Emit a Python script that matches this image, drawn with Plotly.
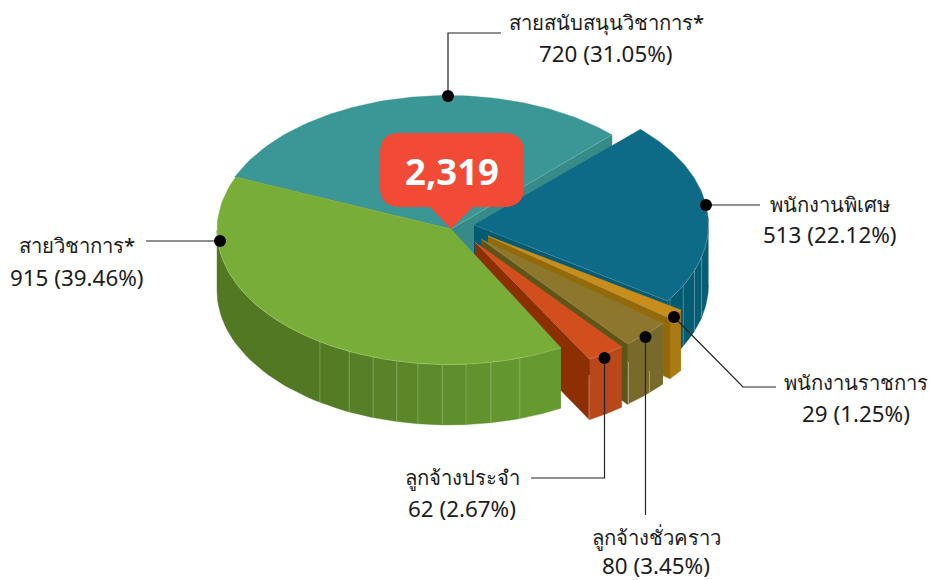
import numpy as np
import plotly.graph_objects as go

# ---- data ----
categories = ["สายสนับสนุนวิชาการ*", "พนักงานพิเศษ", "พนักงานราชการ", "ลูกจ้างชั่วคราว", "ลูกจ้างประจำ", "สายวิชาการ*"]
values = [720, 513, 29, 80, 62, 915]
total_label = "2,319"

# ---- style ----
top_colors = ["#3a9795", "#0e6b87", "#c98d1b", "#8d772d", "#d24f1d", "#78ae37"]
side_colors = ["#368a87", "#015b72", "#936a08", "#5f5518", "#8c3003", "#4f7522"]
wall_left = ["#368a87", "#015a70", "#ac7a12", "#79692a", "#b84819", "#527824"]
wall_right = ["#368a87", "#085f75", "#ac7a12", "#79692a", "#b84819", "#669a30"]
ellipse_centers = [(448, 230), (476.5, 224.5), (490, 233.5), (483, 238.5), (477.5, 241.5), (449, 230)]
apexes = [(451, 229), (474, 225), (488, 236), (481, 239), (475, 242), (451, 229)]
wall_seams = [[], [-33.5, -27, -20, -14], [], [], [], [-123.8, -115.5, -109.1, -103, -97.7, -91.7, -85.8, -79.6, -72.2]]
RX, RY, DEPTH = 232, 134.5, 60.5
START = 156.8

W, H = 932, 580
total = sum(values)
shares = np.array(values) / total
bounds = START - np.concatenate([[0], np.cumsum(shares)]) * 360


def pt(c, a, dy=0):
    r = np.radians(a)
    return c[0] + RX * np.cos(r), c[1] - RY * np.sin(r) + dy


def arc(c, a0, a1, dy=0, n=80):
    ts = np.linspace(a0, a1, n)
    xs, ys = pt(c, ts, dy)
    return list(xs), list(ys)


def mix(c1, c2, f):
    a = [int(c1[i:i + 2], 16) for i in (1, 3, 5)]
    b = [int(c2[i:i + 2], 16) for i in (1, 3, 5)]
    return "#%02x%02x%02x" % tuple(round(x + (y - x) * f) for x, y in zip(a, b))


traces = []


def poly(xs, ys, color):
    traces.append(go.Scatter(x=xs, y=ys, mode="lines", fill="toself", fillcolor=color,
                             line=dict(color=color, width=0.4), hoverinfo="skip", showlegend=False))


def line(xs, ys, color, width=1):
    traces.append(go.Scatter(x=xs, y=ys, mode="lines", line=dict(color=color, width=width),
                             hoverinfo="skip", showlegend=False))


for i in range(len(values)):
    a0, a1 = bounds[i], bounds[i + 1]
    c, ap = ellipse_centers[i], apexes[i]
    # outer wall, front half only
    lo, hi = max(a1, -180), min(a0, 0)
    if lo < hi:
        seams = [s for s in wall_seams[i] if lo < s < hi]
        edges = [hi] + sorted(seams, reverse=True) + [lo]
        n = max(len(edges) - 2, 1)
        for j in range(len(edges) - 1):
            tx, ty = arc(c, edges[j], edges[j + 1], 0, 30)
            bx, by = arc(c, edges[j + 1], edges[j], DEPTH, 30)
            poly(tx + bx, ty + by, mix(wall_right[i], wall_left[i], j / n))
        for s in seams:
            x, y = pt(c, s)
            line([x, x], [y, y + DEPTH], "rgba(255,255,255,0.2)", 1)
    # cut face at the clockwise end
    ox, oy = pt(c, a1)
    poly([ap[0], ox, ox, ap[0]], [ap[1], oy, oy + DEPTH, ap[1] + DEPTH], side_colors[i])
    # top
    ax, ay = arc(c, a0, a1)
    poly([ap[0]] + ax + [ap[0]], [ap[1]] + ay + [ap[1]], top_colors[i])
    # light rim
    if lo < hi:
        rx, ry = arc(c, hi, lo)
        line(rx, ry, "rgba(255,255,255,0.2)", 1)
    line([ap[0], ox], [ap[1], oy], "rgba(255,255,255,0.15)", 1)

# short highlights on the narrow outer walls
for xs, ys in [([628.5, 628.5], [362, 403]), ([649.5, 649.5], [371, 393]), ([589, 589], [375, 420])]:
    line(xs, ys, "rgba(255,255,255,0.35)", 1)

# leader lines and dots (slice order)
leaders = [
    ([448, 448, 501], [96, 33, 33]),
    ([706, 760], [205, 205]),
    ([674, 743, 776], [317, 387, 387]),
    ([645.5, 645.5], [337, 515]),
    ([604.5, 604.5, 531], [358, 478, 478]),
    ([220, 146], [241, 241]),
]
for lx, ly in leaders:
    line(lx, ly, "#222222", 1.2)
traces.append(go.Scatter(x=[l[0][0] for l in leaders], y=[l[1][0] for l in leaders], mode="markers",
                         marker=dict(color="#000000", size=12), hoverinfo="skip", showlegend=False))

fig = go.Figure(traces)

# label positions (slice order): x, y of name line, y of value line
label_pos = [(606, 22, 53), (830, 204, 234), (856, 382, 413), (656, 537, 565), (462, 477, 508), (77, 245, 277)]
annotations = []
for name, v, (x, y1, y2) in zip(categories, values, label_pos):
    annotations.append(dict(x=x, y=y1, text=name, showarrow=False, xanchor="center", yanchor="middle",
                            font=dict(family="Noto Sans, DejaVu Sans, sans-serif", size=20.3, weight=500, color="#1c1c1c")))
    annotations.append(dict(x=x, y=y2, text=f"{v} ({v / total * 100:.2f}%)", showarrow=False, xanchor="center", yanchor="middle",
                            font=dict(family="Noto Sans, DejaVu Sans, sans-serif", size=22.4, color="#1c1c1c")))
annotations.append(dict(x=451.5, y=171, text=f"<b>{total_label}</b>", showarrow=False, xanchor="center", yanchor="middle",
                        font=dict(family="Noto Sans, sans-serif", size=36.5, color="#ffffff")))

bubble = ("M 400 133 L 504 133 Q 524 133 524 153 L 524 187 Q 524 207 504 207 L 473 207 "
          "L 451 229 L 430 207 L 400 207 Q 380 207 380 187 L 380 153 Q 380 133 400 133 Z")

fig.update_layout(
    width=W, height=H, margin=dict(l=0, r=0, t=0, b=0),
    paper_bgcolor="white", plot_bgcolor="white", showlegend=False,
    xaxis=dict(range=[0, W], visible=False, fixedrange=True),
    yaxis=dict(range=[H, 0], visible=False, fixedrange=True),
    annotations=annotations,
    shapes=[dict(type="path", path=bubble, fillcolor="#f14a37", line=dict(width=0), layer="above")],
)
fig.write_html("out.html", post_script="document.body.style.margin='0';", config={"displayModeBar": False})
